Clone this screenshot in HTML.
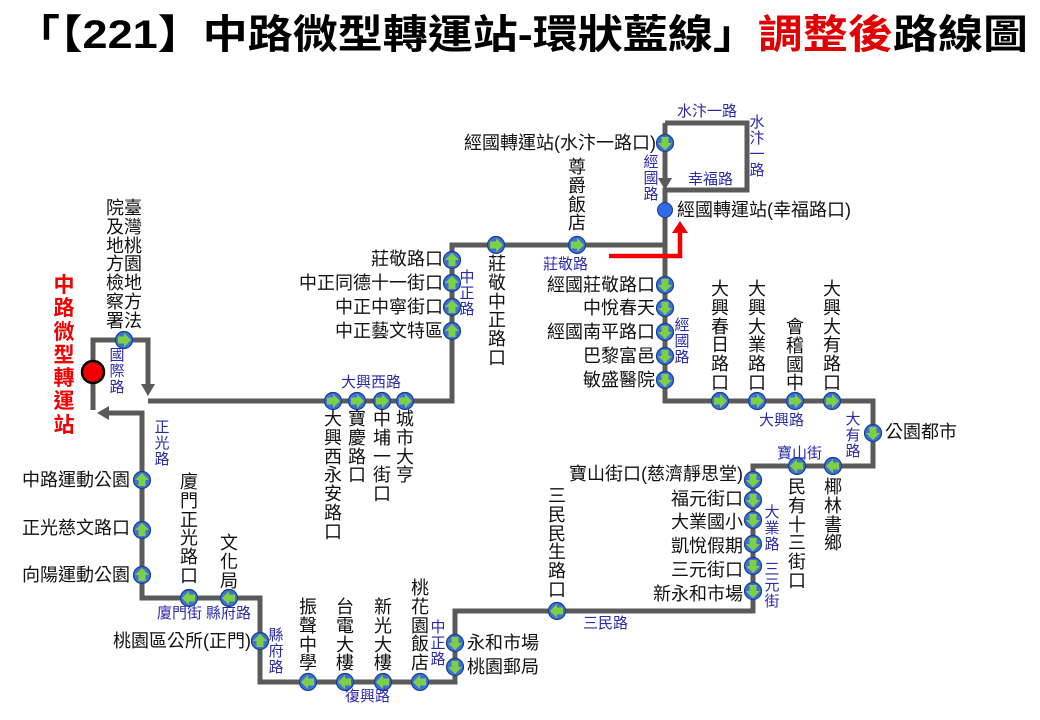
<!DOCTYPE html>
<html><head><meta charset="utf-8"><style>
html,body{margin:0;padding:0;background:#fff}
#c{position:relative;width:1040px;height:720px;overflow:hidden;font-family:"Liberation Sans","Noto Sans CJK TC",sans-serif}
svg{position:absolute;left:0;top:0}
.t{position:absolute;font-size:18px;line-height:18px;color:#111;white-space:nowrap;letter-spacing:0}
.r{text-align:right}
.v{position:absolute;font-size:18px;line-height:18.8px;width:20px;color:#111;text-align:center;word-break:break-all;white-space:normal}
.b{position:absolute;font-size:15px;line-height:15px;color:#2b2ba8;white-space:nowrap}
.bv{position:absolute;font-size:15px;line-height:16px;width:16px;color:#2b2ba8;text-align:center;word-break:break-all}
</style></head><body><div id="c">
<svg width="1040" height="720" viewBox="0 0 1040 720">
<defs>
<g id="d"><circle r="8.5" fill="#3a72d8" stroke="#1c3c8c" stroke-width="1.2"/><polygon points="-6,-3.5 0,-3.5 0,-7 7,0 0,7 0,3.5 -6,3.5" fill="#7fcf45"/></g>
</defs>
<text x="15" y="48" font-size="40" font-weight="bold" textLength="1013" lengthAdjust="spacingAndGlyphs" font-family="Liberation Sans,Noto Sans CJK TC,sans-serif" fill="#000">「【221】中路微型轉運站-環狀藍線」<tspan fill="#e00000">調整後</tspan>路線圖</text>
<g fill="none" stroke="#5a5a5a" stroke-width="5" stroke-linejoin="miter">
<polyline points="93,410 93,340 148,340 148,386"/>
<polyline points="148,401 452,401 452,245 665,245"/>
<polyline points="665,123 665,180"/>
<polyline points="665,123 747,123 747,190 665,190 665,401 873,401 873,466 753,466 753,611 455,611 455,682 260,682 260,598 142,598 142,413 106,413"/>
</g>
<g fill="#5a5a5a">
<polygon points="141,384 155,384 148,396"/>
<polygon points="97,413 109,406 109,420"/>
<polygon points="658,178 672,178 665,190"/>
</g>
<polyline points="609,256 680,256 680,232" fill="none" stroke="#f00000" stroke-width="4.5"/>
<polygon points="672,233 688,233 680,221" fill="#f00000"/>
<circle cx="93" cy="372" r="11" fill="#f00000" stroke="#000" stroke-width="2.5"/>
<circle cx="665" cy="210" r="7.5" fill="#2f6ae8" stroke="#1c3c8c" stroke-width="1"/>
<use href="#d" x="124" y="340"/>
<use href="#d" x="333" y="401"/><use href="#d" x="357" y="401"/><use href="#d" x="382" y="401"/><use href="#d" x="405" y="401"/>
<use href="#d" x="496" y="245"/><use href="#d" x="577" y="245"/>
<use href="#d" x="720" y="401"/><use href="#d" x="757" y="401"/><use href="#d" x="795" y="401"/><use href="#d" x="832" y="401"/>
<g transform="rotate(-90)">
<use href="#d" x="-260" y="452"/><use href="#d" x="-283" y="452"/><use href="#d" x="-307" y="452"/><use href="#d" x="-331" y="452"/>
<use href="#d" x="-641" y="260"/>
<use href="#d" x="-480" y="142"/><use href="#d" x="-530" y="142"/><use href="#d" x="-575" y="142"/>
</g>
<g transform="rotate(90)">
<use href="#d" x="143" y="-665"/>
<use href="#d" x="285" y="-665"/><use href="#d" x="308" y="-665"/><use href="#d" x="332" y="-665"/><use href="#d" x="356" y="-665"/><use href="#d" x="380" y="-665"/>
<use href="#d" x="433" y="-873"/>
<use href="#d" x="480" y="-753"/><use href="#d" x="500" y="-753"/><use href="#d" x="520" y="-753"/><use href="#d" x="544" y="-753"/><use href="#d" x="566" y="-753"/><use href="#d" x="591" y="-753"/>
<use href="#d" x="643" y="-455"/><use href="#d" x="667" y="-455"/>
</g>
<g transform="rotate(180)">
<use href="#d" x="-797" y="-466"/><use href="#d" x="-833" y="-466"/>
<use href="#d" x="-557" y="-611"/>
<use href="#d" x="-308" y="-682"/><use href="#d" x="-345" y="-682"/><use href="#d" x="-383" y="-682"/><use href="#d" x="-420" y="-682"/>
<use href="#d" x="-189" y="-598"/><use href="#d" x="-229" y="-598"/>
</g>
</svg>

<div class="t r" style="right:384px;top:134px">經國轉運站(水汴一路口)</div>
<div class="t" style="left:677px;top:201px">經國轉運站(幸福路口)</div>
<div class="t r" style="right:597px;top:250px">莊敬路口</div>
<div class="t r" style="right:597px;top:274px">中正同德十一街口</div>
<div class="t r" style="right:597px;top:298px">中正中寧街口</div>
<div class="t r" style="right:597px;top:322px">中正藝文特區</div>
<div class="t r" style="right:385px;top:276px">經國莊敬路口</div>
<div class="t r" style="right:385px;top:299px">中悅春天</div>
<div class="t r" style="right:385px;top:323px">經國南平路口</div>
<div class="t r" style="right:385px;top:347px">巴黎富邑</div>
<div class="t r" style="right:385px;top:371px">敏盛醫院</div>
<div class="t" style="left:885px;top:423px">公園都市</div>
<div class="t r" style="right:297px;top:465px">寶山街口(慈濟靜思堂)</div>
<div class="t r" style="right:297px;top:490px">福元街口</div>
<div class="t r" style="right:297px;top:513px">大業國小</div>
<div class="t r" style="right:297px;top:537px">凱悅假期</div>
<div class="t r" style="right:297px;top:561px">三元街口</div>
<div class="t r" style="right:297px;top:585px">新永和市場</div>
<div class="t" style="left:467px;top:634px">永和市場</div>
<div class="t" style="left:467px;top:658px">桃園郵局</div>
<div class="t r" style="right:789px;top:632px">桃園區公所(正門)</div>
<div class="t r" style="right:910px;top:471px">中路運動公園</div>
<div class="t r" style="right:910px;top:519px">正光慈文路口</div>
<div class="t r" style="right:910px;top:566px">向陽運動公園</div>

<div class="v" style="left:123px;top:199px">臺灣桃園地方法</div>
<div class="v" style="left:105px;top:199px">院及地方檢察署</div>
<div class="v" style="left:567px;top:158px">尊爵飯店</div>
<div class="v" style="left:487px;top:255px">莊敬中正路口</div>
<div class="v" style="left:710px;top:280px">大興春日路口</div>
<div class="v" style="left:747px;top:280px">大興大業路口</div>
<div class="v" style="left:785px;top:318px">會稽國中</div>
<div class="v" style="left:822px;top:280px">大興大有路口</div>
<div class="v" style="left:323px;top:410px">大興西永安路口</div>
<div class="v" style="left:347px;top:410px">寶慶路口</div>
<div class="v" style="left:372px;top:410px">中埔一街口</div>
<div class="v" style="left:395px;top:410px">城市大亨</div>
<div class="v" style="left:787px;top:478px">民有十三街口</div>
<div class="v" style="left:823px;top:478px">椰林書鄉</div>
<div class="v" style="left:547px;top:487px">三民民生路口</div>
<div class="v" style="left:179px;top:473px">廈門正光路口</div>
<div class="v" style="left:219px;top:534px">文化局</div>
<div class="v" style="left:298px;top:598px">振聲中學</div>
<div class="v" style="left:335px;top:598px">台電大樓</div>
<div class="v" style="left:373px;top:598px">新光大樓</div>
<div class="v" style="left:410px;top:579px">桃花園飯店</div>
<div class="v" style="left:52px;top:274px;width:24px;font-size:21px;line-height:23.3px;color:#f00000;font-weight:bold">中路微型轉運站</div>

<div class="bv" style="left:109px;top:348px">國際路</div>
<div class="bv" style="left:154px;top:420px">正光路</div>
<div class="b" style="left:341px;top:375px">大興西路</div>
<div class="bv" style="left:459px;top:270px">中正路</div>
<div class="b" style="left:543px;top:257px">莊敬路</div>
<div class="bv" style="left:643px;top:155px">經國路</div>
<div class="bv" style="left:674px;top:318px">經國路</div>
<div class="b" style="left:677px;top:104px">水汴一路</div>
<div class="bv" style="left:749px;top:115px">水汴一路</div>
<div class="b" style="left:688px;top:172px">幸福路</div>
<div class="b" style="left:759px;top:413px">大興路</div>
<div class="bv" style="left:845px;top:412px">大有路</div>
<div class="b" style="left:777px;top:446px">寶山街</div>
<div class="bv" style="left:764px;top:505px">大業路</div>
<div class="bv" style="left:764px;top:562px">三元街</div>
<div class="b" style="left:583px;top:616px">三民路</div>
<div class="bv" style="left:430px;top:620px">中正路</div>
<div class="b" style="left:345px;top:689px">復興路</div>
<div class="bv" style="left:268px;top:628px">縣府路</div>
<div class="b" style="left:157px;top:606px">廈門街</div>
<div class="b" style="left:206px;top:606px">縣府路</div>
</div></body></html>
